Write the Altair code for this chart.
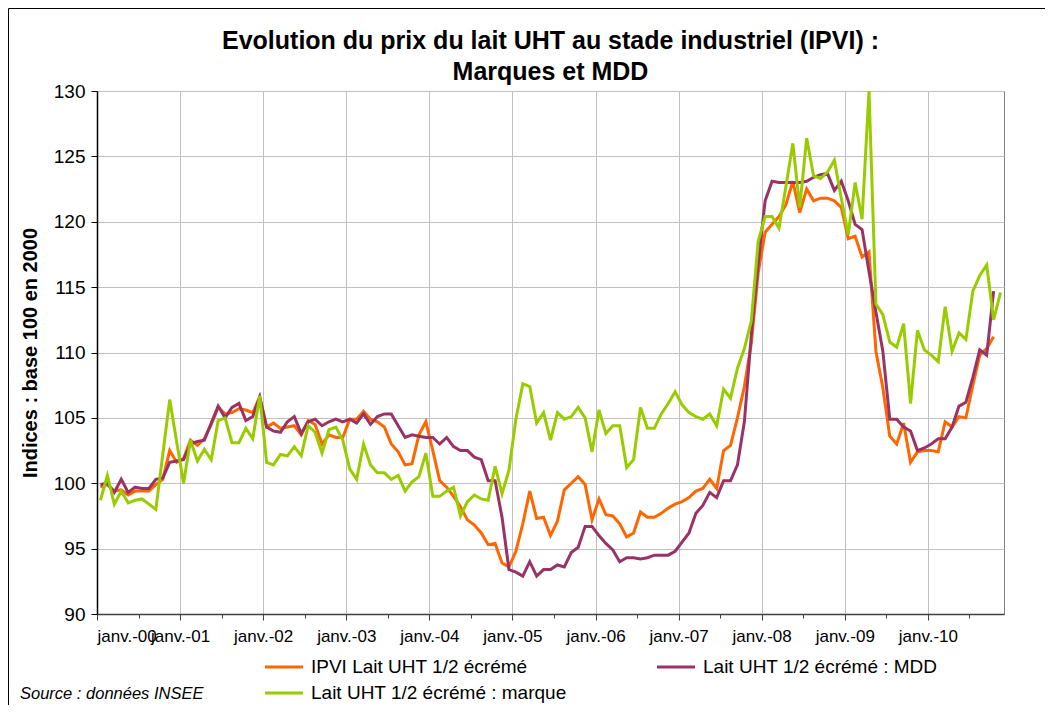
import altair as alt
import pandas as pd

# Monthly indices, Jan 2000 onwards (base 100 en 2000)
ipvi = [
    99.7, 99.9, 99.4, 99.5, 99.1, 99.4, 99.4, 99.4, 99.9, 100.3, 102.5, 101.6,
    101.9, 103.3, 102.9, 103.4, 104.5, 105.8, 105.3, 105.4, 105.7, 105.6, 105.4, 106.6,
    104.3, 104.6, 104.2, 104.3, 104.4, 103.7, 104.8, 104.5, 103.0, 103.7, 103.5, 103.5,
    104.9, 104.9, 105.5, 104.9, 104.7, 104.3, 103.0, 102.4, 101.4, 101.5, 103.7, 104.7,
    102.5, 100.2, 99.7, 99.0, 98.2, 97.2, 96.8, 96.2, 95.3, 95.4, 93.9, 93.6,
    94.8, 96.9, 99.4, 97.3, 97.4, 96.0, 97.1, 99.5, 100.0, 100.5, 99.9, 97.2,
    98.8, 97.6, 97.5, 96.9, 95.9, 96.2, 97.8, 97.4, 97.4, 97.7, 98.1, 98.4,
    98.6, 98.9, 99.4, 99.6, 100.3, 99.6, 102.5, 102.9, 105.0, 107.4, 110.7, 116.1,
    119.2, 119.8, 120.4, 121.3, 123.1, 120.7, 122.5, 121.6, 121.8, 121.8, 121.6, 121.1,
    118.7, 118.9, 117.3, 117.7, 110.1, 107.3, 103.6, 103.0, 104.6, 101.6, 102.4, 102.5,
    102.5, 102.4, 104.7, 104.3, 105.1, 105.0, 107.5, 109.8, 110.3, 111.2,
]
mdd = [
    99.9, 100.0, 99.3, 100.3, 99.3, 99.7, 99.6, 99.6, 100.3, 100.4, 101.6, 101.7,
    101.8, 103.0, 103.2, 103.3, 104.6, 105.9, 105.0, 105.8, 106.1, 104.8, 105.1, 106.6,
    104.3, 104.0, 103.9, 104.7, 105.1, 103.8, 104.7, 104.9, 104.4, 104.7, 104.9, 104.7,
    104.9, 104.6, 105.3, 104.5, 105.1, 105.3, 105.3, 104.4, 103.5, 103.7, 103.6, 103.5,
    103.5, 103.0, 103.5, 102.8, 102.5, 102.5, 102.0, 101.8, 100.2, 100.2, 97.4, 93.4,
    93.2, 92.9, 94.0, 92.9, 93.4, 93.4, 93.75, 93.6, 94.7, 95.1, 96.7, 96.7,
    96.0, 95.4, 94.9, 94.0, 94.3, 94.3, 94.2, 94.3, 94.5, 94.5, 94.5, 94.8,
    95.5, 96.2, 97.7, 98.3, 99.3, 98.9, 100.2, 100.2, 101.4, 104.7, 111.3, 116.8,
    121.6, 123.1, 123.0, 123.0, 123.0, 123.0, 123.1, 123.4, 123.6, 123.7, 122.4, 123.1,
    121.6, 119.8, 119.4, 116.2, 113.1, 110.1, 104.9, 104.9, 104.3, 104.0, 102.5, 102.7,
    103.0, 103.4, 103.4, 104.3, 105.9, 106.2, 108.1, 110.2, 109.8, 114.7,
]
marque = [
    98.7, 100.6, 98.4, 99.4, 98.5, 98.7, 98.8, 98.4, 98.0, 102.2, 106.4, 103.2,
    100.0, 103.3, 101.7, 102.6, 101.8, 104.8, 105.0, 103.1, 103.1, 104.2, 103.4, 106.7,
    101.6, 101.4, 102.2, 102.1, 102.8, 102.1, 104.4, 103.9, 102.3, 104.1, 104.3, 103.3,
    101.1, 100.3, 103.0, 101.4, 100.8, 100.8, 100.3, 100.6, 99.4, 100.1, 100.5, 102.3,
    99.0, 99.0, 99.4, 99.7, 97.5, 98.6, 99.1, 98.8, 98.7, 101.3, 99.2, 101.0,
    104.9, 107.6, 107.4, 104.6, 105.4, 103.3, 105.4, 104.9, 105.1, 105.8, 105.0, 102.4,
    105.6, 103.8, 104.4, 104.4, 101.2, 101.8, 105.8, 104.2, 104.2, 105.3, 106.1, 107.0,
    106.0, 105.4, 105.1, 104.9, 105.3, 104.4, 107.2, 106.5, 108.8, 110.3, 112.4, 118.5,
    120.4, 120.4, 119.5, 122.7, 126.0, 121.1, 126.4, 123.5, 123.3, 123.8, 124.7, 121.8,
    119.0, 123.0, 120.2, 130.0, 113.7, 112.9, 110.8, 110.4, 112.2, 106.1, 111.7, 110.2,
    109.8, 109.3, 113.5, 110.1, 111.5, 111.0, 114.7, 115.9, 116.7, 112.5, 114.6,
]

series_names = [
    "IPVI Lait UHT 1/2 écrémé",
    "Lait UHT 1/2 écrémé : MDD",
    "Lait UHT 1/2 écrémé : marque",
]
series_colors = ["#FF6600", "#993366", "#99CC00"]
# legend is filled column by column: IPVI / marque in the first column, MDD in the second
legend_order = [0, 2, 1]
y_ticks = [90, 95, 100, 105, 110, 115, 120, 125, 130]
n_months = 131  # janv. 2000 -> nov. 2010

rows = []
for name, vals in zip(series_names, [ipvi, mdd, marque]):
    for i, v in enumerate(vals):
        rows.append({"serie": name, "mois": i + 0.5, "indice": v})
df = pd.DataFrame(rows)

W, H = 907, 523
FONT = "Liberation Sans"

major = "datum.value % 12 === 0"

x_axis = alt.Axis(
    values=list(range(0, n_months, 6)),
    title=None,
    labelExpr="datum.value % 12 === 0 ? 'janv.-' + (datum.value / 12 < 10 ? '0' : '') + (datum.value / 12) : ''",
    labelOverlap=False,
    labelAngle=0,
    labelFontSize=17,
    labelColor="black",
    labelPadding=8,
    grid=True,
    gridColor="#C0C0C0",
    gridOpacity={"condition": {"test": major, "value": 1}, "value": 0},
    domainColor="#404040",
    domainWidth=1.5,
    tickColor="#404040",
    tickSize={"condition": {"test": major, "value": 6}, "value": 4},
)

y_axis = alt.Axis(
    values=y_ticks,
    title="Indices : base 100 en 2000",
    titleFontSize=20,
    titleFontWeight="bold",
    titleColor="black",
    titleAngle=270,
    titleX=-67,
    titleY=H / 2,
    titleAlign="center",
    titleBaseline="middle",
    labelFontSize=19,
    labelColor="black",
    labelPadding=6,
    tickSize=6,
    tickColor="black",
    domainColor="black",
    domainWidth=1.5,
    grid=True,
    gridColor="#C0C0C0",
)

lines = alt.Chart(df).mark_line(strokeWidth=3).encode(
    x=alt.X("mois:Q", scale=alt.Scale(domain=[0, n_months], nice=False, zero=False), axis=x_axis),
    y=alt.Y("indice:Q", scale=alt.Scale(domain=[90, 130], nice=False, zero=False), axis=y_axis),
    color=alt.Color(
        "serie:N",
        scale=alt.Scale(
            domain=[series_names[i] for i in legend_order],
            range=[series_colors[i] for i in legend_order],
        ),
        legend=alt.Legend(
            title=None,
            orient="none",
            legendX=176,
            legendY=565,
            columns=2,
            columnPadding=84,
            rowPadding=5,
            symbolType="M-2,0H2",
            symbolSize=361,
            symbolStrokeWidth=3,
            labelFontSize=19,
            labelColor="black",
            labelOffset=16,
            labelLimit=400,
            padding=0,
        ),
    ),
)

src = alt.Chart(pd.DataFrame({"t": ["Source : données INSEE"]})).mark_text(
    align="left", baseline="middle", fontSize=16.5, fontStyle="italic", color="black"
).encode(text="t:N", x=alt.value(-77), y=alt.value(603))

frame = alt.Chart(pd.DataFrame({"a": [0]})).mark_rect(
    fill="transparent", stroke="black", strokeWidth=1
).encode(x=alt.value(-88.5), x2=alt.value(1100), y=alt.value(-82.5), y2=alt.value(800))

chart = alt.layer(frame, lines, src).properties(
    width=W,
    height=H,
    autosize=alt.AutoSizeParams(type="none"),
    padding={"left": 89, "top": 83, "right": 41, "bottom": 91},
    title=alt.TitleParams(
        text=["Evolution du prix du lait UHT au stade industriel (IPVI) :", "Marques et MDD"],
        fontSize=25,
        fontWeight="bold",
        color="black",
        anchor="middle",
        frame="group",
        offset=-77,
        lineHeight=31,
    ),
).configure(font=FONT).configure_view(stroke="#808080", strokeWidth=1)

chart.save("out.html", embed_options={"renderer": "svg", "actions": False})
